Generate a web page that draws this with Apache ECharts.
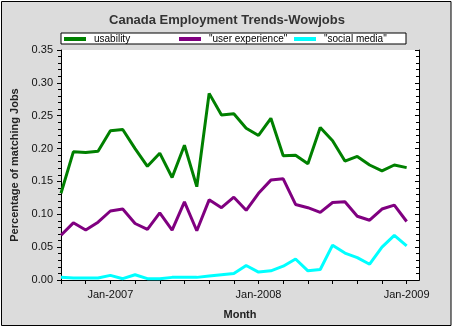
<!DOCTYPE html>
<html>
<head>
<meta charset="utf-8">
<script src="https://cdn.jsdelivr.net/npm/echarts@6/dist/echarts.min.js"></script>
<style>
html,body{margin:0;padding:0;background:#ffffff;}
#c{width:454px;height:329px;}
</style>
</head>
<body>
<div id="c"></div>
<script>
// Month categories (Sep-2006 .. Jan-2009 with data; Feb-2009 closes the axis)
var months = ['Sep-2006','Oct-2006','Nov-2006','Dec-2006',
  'Jan-2007','Feb-2007','Mar-2007','Apr-2007','May-2007','Jun-2007','Jul-2007','Aug-2007','Sep-2007','Oct-2007','Nov-2007','Dec-2007',
  'Jan-2008','Feb-2008','Mar-2008','Apr-2008','May-2008','Jun-2008','Jul-2008','Aug-2008','Sep-2008','Oct-2008','Nov-2008','Dec-2008',
  'Jan-2009','Feb-2009'];

var usability = [0.132,0.195,0.194,0.196,0.227,0.229,0.200,0.173,0.193,0.156,
  0.205,0.142,0.284,0.251,0.253,0.231,0.220,0.246,0.189,0.190,
  0.177,0.232,0.212,0.181,0.188,0.175,0.166,0.175,0.171];

var userExperience = [0.068,0.087,0.076,0.088,0.105,0.108,0.086,0.077,0.102,0.076,
  0.119,0.075,0.122,0.110,0.126,0.106,0.132,0.152,0.154,0.115,
  0.110,0.103,0.118,0.119,0.097,0.091,0.108,0.114,0.089];

var socialMedia = [0.004,0.003,0.003,0.003,0.007,0.002,0.008,0.002,0.002,0.004,
  0.004,0.004,0.006,0.008,0.010,0.022,0.012,0.014,0.021,0.032,
  0.014,0.016,0.053,0.041,0.034,0.024,0.050,0.068,0.052];

var seriesNames = ['usability','"user experience"','"social media"'];
var yTicks = [0,0.05,0.10,0.15,0.20,0.25,0.30,0.35];

var FONT = '"Liberation Sans", Arial, sans-serif';
var chart = echarts.init(document.getElementById('c'));

var lineSeries = function(name, data, color){
  return {
    name: name, type: 'line', data: data, xAxisIndex: 0, yAxisIndex: 0,
    symbol: 'none', smooth: false,
    lineStyle: {color: color, width: 3},
    itemStyle: {color: color},
    animation: false
  };
};

chart.setOption({
  backgroundColor: '#ffffff',
  animation: false,
  graphic: [{
    type: 'rect', z: -10, silent: true,
    shape: {x: 1.5, y: 1.5, width: 449.5, height: 324},
    style: {fill: '#dcdcdc', stroke: '#000000', lineWidth: 1}
  }, {
    type: 'rect', z: -5, silent: true,
    shape: {x: 61, y: 50, width: 358, height: 230},
    style: {fill: '#ffffff'}
  }],
  title: {
    text: 'Canada Employment Trends-Wowjobs',
    left: 'center', top: 9,
    textStyle: {fontFamily: FONT, fontSize: 13, fontWeight: 'bold', color: '#333333'}
  },
  legend: {
    data: seriesNames,
    left: 61, top: 33,
    padding: [1, 1, 0, 3],
    itemGap: 4,
    itemWidth: 22, itemHeight: 4,
    icon: 'rect',
    backgroundColor: '#ffffff',
    borderColor: '#000000', borderWidth: 1,
    textStyle: {fontFamily: FONT, fontSize: 10, color: '#000000', width: 81, lineHeight: 9, padding: [0, 0, 0, 3]}
  },
  grid: {left: 61, right: 35, top: 50, bottom: 49, containLabel: false},
  xAxis: [{
    type: 'category', data: months, boundaryGap: false, position: 'bottom',
    name: 'Month', nameLocation: 'middle', nameGap: 29,
    nameTextStyle: {fontFamily: FONT, fontSize: 11, fontWeight: 'bold', color: '#222222'},
    axisLine: {lineStyle: {color: '#000000', width: 1}},
    axisTick: {show: true, interval: 1, length: 4, inside: false, lineStyle: {color: '#000000'}},
    axisLabel: {
      interval: function(i, v){ return v.indexOf('Jan') === 0; },
      margin: 9, fontFamily: FONT, fontSize: 11, color: '#111111'
    },
    splitLine: {show: false}
  }, {
    type: 'category', data: months, boundaryGap: false, position: 'top',
    axisLine: {lineStyle: {color: '#000000', width: 1}},
    axisTick: {show: true, interval: 1, length: 4, inside: true, lineStyle: {color: '#000000'}},
    axisLabel: {show: false},
    splitLine: {show: false}
  }],
  yAxis: [{
    type: 'value', min: 0, max: 0.35, interval: 0.05, position: 'left',
    name: 'Percentage of matching Jobs', nameLocation: 'middle', nameGap: 41,
    nameTextStyle: {fontFamily: FONT, fontSize: 11, fontWeight: 'bold', color: '#222222'},
    axisLine: {show: true, lineStyle: {color: '#000000', width: 1}},
    axisTick: {show: true, length: 4, inside: false, lineStyle: {color: '#000000'}},
    minorTick: {show: true, splitNumber: 5, length: 3, lineStyle: {color: '#000000'}},
    axisLabel: {
      formatter: function(v){ return v.toFixed(2); },
      margin: 8, fontFamily: FONT, fontSize: 11, color: '#111111'
    },
    splitLine: {show: false}
  }, {
    type: 'value', min: 0, max: 0.35, interval: 0.05, position: 'right',
    axisLine: {show: true, lineStyle: {color: '#000000', width: 1}},
    axisTick: {show: true, length: 4, inside: true, lineStyle: {color: '#000000'}},
    minorTick: {show: true, splitNumber: 5, length: 3, lineStyle: {color: '#000000'}},
    axisLabel: {show: false},
    splitLine: {show: false}
  }],
  series: [
    lineSeries(seriesNames[0], usability, '#008000'),
    lineSeries(seriesNames[1], userExperience, '#800080'),
    lineSeries(seriesNames[2], socialMedia, '#00ffff')
  ]
});
</script>
</body>
</html>
